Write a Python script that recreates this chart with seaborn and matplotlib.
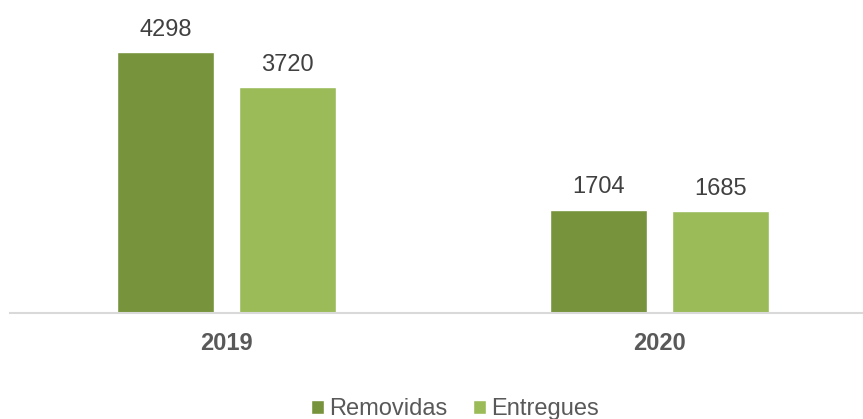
import matplotlib
matplotlib.use("Agg")
import matplotlib.pyplot as plt
import seaborn as sns
import pandas as pd

years = ["2019", "2020"]
series = ["Removidas", "Entregues"]
removidas = [4298, 1704]
entregues = [3720, 1685]
colors = ["#77933C", "#9BBB59"]

df = pd.DataFrame({
    "ano": years * 2,
    "tipo": [series[0]] * 2 + [series[1]] * 2,
    "valor": removidas + entregues,
})

sns.set_style("white")
plt.rcParams["font.family"] = ["Liberation Sans", "DejaVu Sans"]

fig = plt.figure(figsize=(8.63, 4.19), dpi=100)
ax = fig.add_axes([10 / 863, 106 / 419, 853 / 863, 303.6 / 419])

sns.barplot(data=df, x="ano", y="valor", hue="tipo", palette=colors,
            width=0.564, gap=0.2, ax=ax, saturation=1)

for c in ax.containers:
    ax.bar_label(c, padding=8, fontsize=17, color="#404040")

ax.set_ylim(0, 5000)
ax.set_xlim(-0.5, 1.5 - 13 / 433)
ax.set_xlabel("")
ax.set_ylabel("")
ax.set_yticks([])
for s in ["top", "right", "left"]:
    ax.spines[s].set_visible(False)
ax.spines["bottom"].set_color("#D9D9D9")
ax.spines["bottom"].set_linewidth(1.5)
ax.tick_params(axis="x", length=0, pad=14, labelsize=17, labelcolor="#595959")
for t in ax.get_xticklabels():
    t.set_fontweight("bold")

handles, labels = ax.get_legend_handles_labels()
ax.get_legend().remove()
fig.legend(handles, labels, loc="center", bbox_to_anchor=(455 / 863, 10 / 419),
           ncol=2, frameon=False, fontsize=17, handlelength=0.55, handleheight=0.55,
           handletextpad=0.2, columnspacing=1.1, labelcolor="#595959")

fig.savefig("out.png", dpi=100)
